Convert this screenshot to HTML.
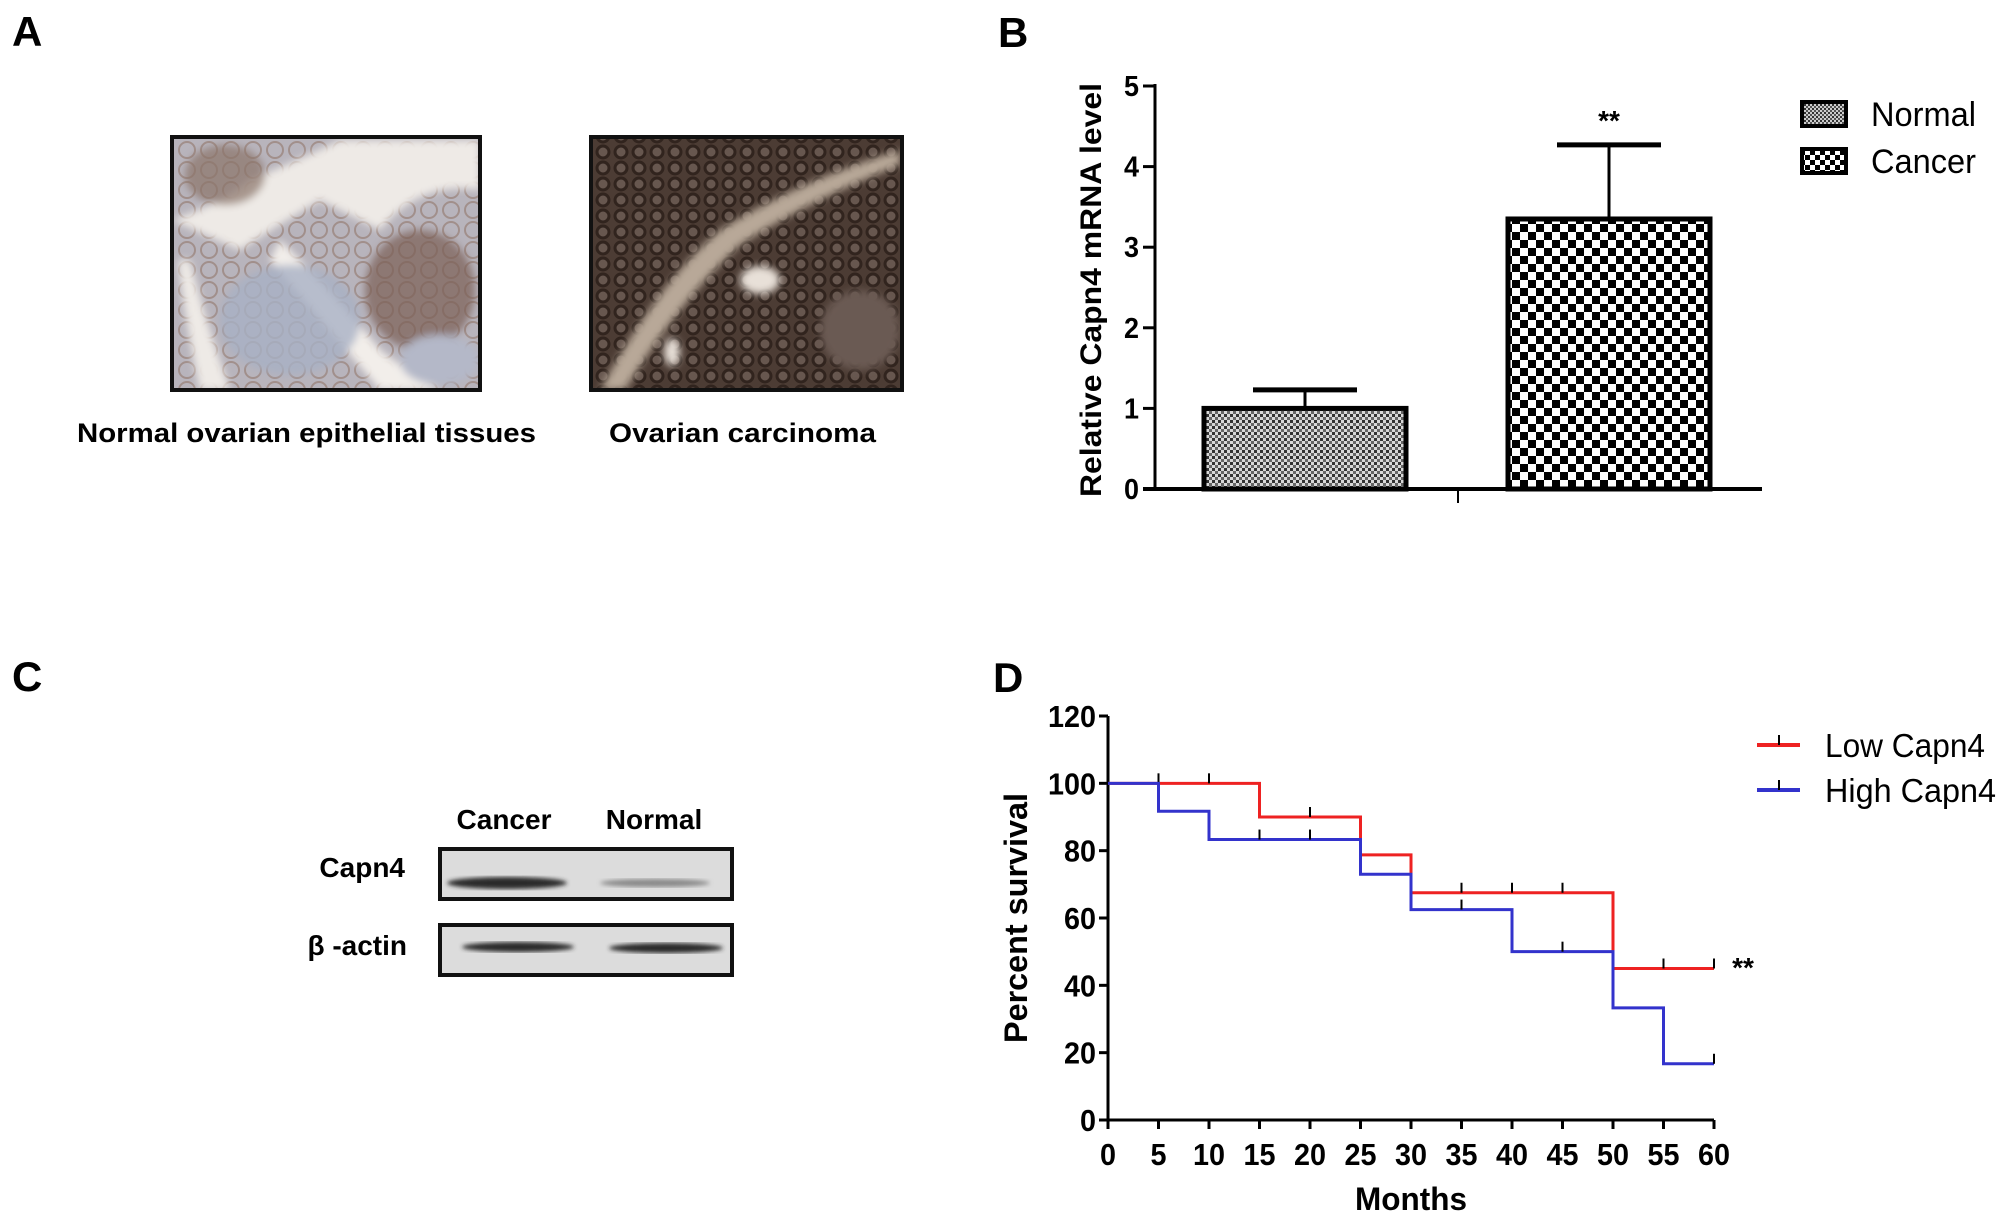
<!DOCTYPE html>
<html><head><meta charset="utf-8"><style>
html,body{margin:0;padding:0;background:#fff;}
svg{display:block;font-family:"Liberation Sans",Arial,sans-serif;}
</style></head><body>
<svg id="fig" width="2008" height="1222" viewBox="0 0 2008 1222" xmlns="http://www.w3.org/2000/svg">
<defs>
<pattern id="fine" width="6" height="6" patternUnits="userSpaceOnUse">
<rect width="6" height="6" fill="#d8d8d8"/><rect width="3" height="3" fill="#333"/><rect x="3" y="3" width="3" height="3" fill="#666"/>
</pattern>
<pattern id="coarse" width="16" height="16" patternUnits="userSpaceOnUse">
<rect width="16" height="16" fill="#fff"/><rect width="8" height="8" fill="#000"/><rect x="8" y="8" width="8" height="8" fill="#000"/>
</pattern>
<pattern id="coarseL" width="10" height="10" patternUnits="userSpaceOnUse">
<rect width="10" height="10" fill="#fff"/><rect width="5" height="5" fill="#000"/><rect x="5" y="5" width="5" height="5" fill="#000"/>
</pattern>
<pattern id="fineL" width="4" height="4" patternUnits="userSpaceOnUse">
<rect width="4" height="4" fill="#ccc"/><rect width="2" height="2" fill="#333"/><rect x="2" y="2" width="2" height="2" fill="#555"/>
</pattern>
<pattern id="cellsLight" width="22" height="20" patternUnits="userSpaceOnUse">
<circle cx="11" cy="10" r="8" fill="none" stroke="#8a6a5a" stroke-width="2" opacity="0.5"/>
</pattern>
<pattern id="cellsDark" width="18" height="16" patternUnits="userSpaceOnUse">
<circle cx="9" cy="8" r="6" fill="#6e5e56" stroke="#2a1e18" stroke-width="3"/>
</pattern>
<filter id="blur4"><feGaussianBlur stdDeviation="4"/></filter>
<filter id="blur2"><feGaussianBlur stdDeviation="2"/></filter>
<clipPath id="c1"><rect x="172" y="137" width="308" height="253"/></clipPath>
<clipPath id="c2"><rect x="591" y="137" width="311" height="253"/></clipPath>
</defs>

<!-- Panel A -->
<text x="12" y="46" font-size="42" font-weight="bold">A</text>
<g clip-path="url(#c1)">
<rect x="172" y="137" width="308" height="253" fill="#b8b4bc"/>
<rect x="172" y="137" width="308" height="253" fill="url(#cellsLight)"/>
<g filter="url(#blur4)">
<path d="M172,220 Q230,200 250,180 Q300,160 340,140 L480,140 L480,190 Q420,180 380,230 L320,200 Q270,230 240,250 Z" fill="#eeeae6"/>
<path d="M280,240 Q340,300 380,350 Q420,380 440,390 L380,390 Q330,330 270,260 Z" fill="#f2eeea"/>
<path d="M190,260 Q205,320 230,390 L200,390 Q185,320 178,260 Z" fill="#eeeae6"/>
<ellipse cx="290" cy="320" rx="70" ry="55" fill="#a8b0c4" opacity="0.8"/>
<ellipse cx="420" cy="290" rx="55" ry="60" fill="#7a5e54" opacity="0.7"/>
<ellipse cx="225" cy="175" rx="40" ry="30" fill="#8a7468" opacity="0.7"/>
<ellipse cx="440" cy="360" rx="40" ry="25" fill="#b4b8c8"/>
</g>
</g>
<rect x="172" y="137" width="308" height="253" fill="none" stroke="#111" stroke-width="4"/>
<g clip-path="url(#c2)">
<rect x="591" y="137" width="311" height="253" fill="#4c3c34"/>
<rect x="591" y="137" width="311" height="253" fill="url(#cellsDark)" opacity="0.8"/>
<g filter="url(#blur4)">
<path d="M600,390 Q660,280 720,230 Q800,180 900,150 L900,165 Q810,200 740,245 Q680,300 625,390 Z" fill="#b8a898"/>
<ellipse cx="860" cy="330" rx="40" ry="40" fill="#6a5a52"/>
<ellipse cx="760" cy="280" rx="20" ry="14" fill="#e8e0d8"/>
<ellipse cx="672" cy="352" rx="8" ry="14" fill="#e8e0d8"/>
</g>
</g>
<rect x="591" y="137" width="311" height="253" fill="none" stroke="#111" stroke-width="4"/>
<text x="77" y="442" font-size="27" font-weight="bold" textLength="459" lengthAdjust="spacingAndGlyphs">Normal ovarian epithelial tissues</text>
<text x="609" y="442" font-size="27" font-weight="bold" textLength="267" lengthAdjust="spacingAndGlyphs">Ovarian carcinoma</text>

<!-- Panel C -->
<text x="12" y="691" font-size="42" font-weight="bold">C</text>
<text x="504" y="829" font-size="28" font-weight="bold" text-anchor="middle">Cancer</text>
<text x="654" y="829" font-size="28" font-weight="bold" text-anchor="middle">Normal</text>
<text x="405" y="877" font-size="28" font-weight="bold" text-anchor="end">Capn4</text>
<text x="407" y="955" font-size="28" font-weight="bold" text-anchor="end">β -actin</text>
<g>
<rect x="440" y="849" width="292" height="50" fill="#dcdcdc"/>
<ellipse cx="507" cy="883" rx="60" ry="6" fill="#2a2a2a" filter="url(#blur2)"/>
<ellipse cx="655" cy="883" rx="55" ry="4" fill="#8a8a8a" filter="url(#blur2)"/>
<rect x="440" y="849" width="292" height="50" fill="none" stroke="#111" stroke-width="4"/>
</g>
<g>
<rect x="440" y="925" width="292" height="50" fill="#dcdcdc"/>
<ellipse cx="518" cy="947" rx="56" ry="5" fill="#2a2a2a" filter="url(#blur2)"/>
<ellipse cx="666" cy="948" rx="57" ry="5" fill="#2a2a2a" filter="url(#blur2)"/>
<rect x="440" y="925" width="292" height="50" fill="none" stroke="#111" stroke-width="4"/>
</g>

<!-- Panel B -->
<text x="998" y="47" font-size="42" font-weight="bold">B</text>
<g id="barChart"></g>

<!-- Panel D -->
<text x="993" y="692" font-size="42" font-weight="bold">D</text>
<g id="kmChart"></g>
</svg>
<script>
// ---- Bar chart data (panel B)
const barCategories = ["Normal", "Cancer"];
const barValues = [1.0, 3.35];
const barErrors = [0.23, 0.92];
const barTicks = [0, 1, 2, 3, 4, 5];
const barFills = ["url(#fine)", "url(#coarse)"];
const barLegendFills = ["url(#fineL)", "url(#coarseL)"];

// ---- Survival data (panel D)
const kmTimeTicks = [0, 5, 10, 15, 20, 25, 30, 35, 40, 45, 50, 55, 60];
const kmYTicks = [0, 20, 40, 60, 80, 100, 120];
const lowTimes = [0, 15, 25, 30, 50, 60];
const lowSurv = [100, 90, 78.75, 67.5, 45, 45];
const lowCensor = [5, 10, 20, 35, 40, 45, 55, 60];
const highTimes = [0, 5, 10, 25, 30, 40, 50, 55, 60];
const highSurv = [100, 91.7, 83.3, 73, 62.5, 50, 33.3, 16.7, 16.7];
const highCensor = [15, 20, 35, 45, 60];
const kmSeriesNames = ["Low Capn4", "High Capn4"];

const NS = "http://www.w3.org/2000/svg";
function mk(tag, attrs, parent, text) {
  const e = document.createElementNS(NS, tag);
  for (const k in attrs) e.setAttribute(k, attrs[k]);
  if (text !== undefined) e.textContent = text;
  parent.appendChild(e);
  return e;
}

// ---- Draw bar chart
(function () {
  const g = document.getElementById("barChart");
  const x0 = 1155, x1 = 1762, yBase = 489, yTop = 86, vMax = 5;
  const y = v => yBase - (v / vMax) * (yBase - yTop);
  const barW = 202;
  const centers = [1305, 1609];
  let e = mk("line", {x1: x0, y1: yTop - 2, x2: x0, y2: yBase, stroke: "#000", "stroke-width": 3}, g);
  
  
  e = mk("line", {x1: 1143, y1: yBase, x2: x1, y2: yBase, stroke: "#000", "stroke-width": 4}, g);
  
  
  mk("line", {x1: 1458, y1: yBase, x2: 1458, y2: 503, stroke: "#000", "stroke-width": 2}, g);
  barTicks.forEach(t => {
    mk("line", {x1: 1143, y1: y(t), x2: x0, y2: y(t), stroke: "#000", "stroke-width": 3}, g);
    const tl = mk("text", {x: 1139, y: y(t) + 10, "font-size": 29, "font-weight": "bold", "text-anchor": "end", textLength: 15, lengthAdjust: "spacingAndGlyphs"}, g, String(t));
    
    
  });
  const yt = mk("text", {x: 0, y: 0, "font-size": 30, "font-weight": "bold", "text-anchor": "middle", transform: "translate(1101,290) rotate(-90)", textLength: 414, lengthAdjust: "spacingAndGlyphs"}, g, "Relative Capn4 mRNA level");
  
  
  barValues.forEach((v, i) => {
    const cx = centers[i];
    const err = mk("line", {x1: cx, y1: y(v), x2: cx, y2: y(v + barErrors[i]), stroke: "#000", "stroke-width": 3}, g);
    
    
    mk("line", {x1: cx - 52, y1: y(v + barErrors[i]), x2: cx + 52, y2: y(v + barErrors[i]), stroke: "#000", "stroke-width": 5}, g);
    const b = mk("rect", {x: cx - barW / 2, y: y(v), width: barW, height: yBase - y(v), fill: barFills[i], stroke: "#000", "stroke-width": 5}, g);
    
    
  });
  const st = mk("text", {x: centers[1], y: 130, "font-size": 28, "font-weight": "bold", "text-anchor": "middle"}, g, "**");
  
  
  barCategories.forEach((c, i) => {
    const ly = 100 + i * 47;
    const lb = mk("rect", {x: 1802, y: ly + 2, width: 44, height: 24, fill: barLegendFills[i], stroke: "#000", "stroke-width": 4}, g);
    
    
    const lt = mk("text", {x: 1871, y: ly + 26, "font-size": 34, textLength: 105, lengthAdjust: "spacingAndGlyphs"}, g, c);
    
    
  });
})();

// ---- Draw survival chart
(function () {
  const g = document.getElementById("kmChart");
  const x0 = 1108, xEnd = 1714, yBase = 1120, yTop = 716;
  const X = t => x0 + (t / 60) * (xEnd - x0);
  const Y = v => yBase - (v / 120) * (yBase - yTop);
  let e = mk("line", {x1: x0, y1: yTop, x2: x0, y2: yBase, stroke: "#000", "stroke-width": 3}, g);
  
  
  e = mk("line", {x1: x0 - 8, y1: yBase, x2: xEnd, y2: yBase, stroke: "#000", "stroke-width": 3}, g);
  
  
  kmYTicks.forEach(t => {
    mk("line", {x1: x0 - 9, y1: Y(t), x2: x0, y2: Y(t), stroke: "#000", "stroke-width": 3}, g);
    const s = String(t);
    const tl = mk("text", {x: 1096, y: Y(t) + 11, "font-size": 31, "font-weight": "bold", "text-anchor": "end", textLength: s.length * 16, lengthAdjust: "spacingAndGlyphs"}, g, s);
    
    
  });
  kmTimeTicks.forEach(t => {
    mk("line", {x1: X(t), y1: yBase, x2: X(t), y2: yBase + 9, stroke: "#000", "stroke-width": 3}, g);
    const s = String(t);
    const tl = mk("text", {x: X(t), y: 1165, "font-size": 31, "font-weight": "bold", "text-anchor": "middle", textLength: s.length * 16, lengthAdjust: "spacingAndGlyphs"}, g, s);
    
    
  });
  const xt = mk("text", {x: 1411, y: 1210, "font-size": 32, "font-weight": "bold", "text-anchor": "middle", textLength: 112, lengthAdjust: "spacingAndGlyphs"}, g, "Months");
  
  
  const yt = mk("text", {x: 0, y: 0, "font-size": 32, "font-weight": "bold", "text-anchor": "middle", transform: "translate(1027,918) rotate(-90)", textLength: 250, lengthAdjust: "spacingAndGlyphs"}, g, "Percent survival");
  
  

  function stepValue(times, surv, t) {
    let v = surv[0];
    for (let i = 0; i < times.length; i++) if (times[i] <= t + 1e-9) v = surv[i]; else break;
    return v;
  }
  function drawSeries(times, surv, censor, color, name) {
    let d = "M" + X(times[0]) + "," + Y(surv[0]);
    for (let i = 1; i < times.length; i++) {
      d += " H" + X(times[i]) + " V" + Y(surv[i]);
    }
    const p = mk("path", {d: d, fill: "none", stroke: color, "stroke-width": 3}, g);
    
    
    censor.forEach(t => {
      const v = stepValue(times, surv, t);
      const c = mk("line", {x1: X(t), y1: Y(v), x2: X(t), y2: Y(v) - 10, stroke: "#000", "stroke-width": 2}, g);
      
      
    });
  }
  drawSeries(lowTimes, lowSurv, lowCensor, "#ee2222", "low-capn4");
  drawSeries(highTimes, highSurv, highCensor, "#3333cc", "high-capn4");
  const st = mk("text", {x: 1743, y: 977, "font-size": 28, "font-weight": "bold", "text-anchor": "middle"}, g, "**");
  
  
  const colors = ["#ee2222", "#3333cc"];
  kmSeriesNames.forEach((n, i) => {
    const ly = 745 + i * 45;
    const sw = mk("line", {x1: 1757, y1: ly, x2: 1800, y2: ly, stroke: colors[i], "stroke-width": 4}, g);
    
    
    mk("line", {x1: 1779, y1: ly, x2: 1779, y2: ly - 10, stroke: "#000", "stroke-width": 2}, g);
    const lt = mk("text", {x: 1825, y: ly + 12, "font-size": 33, textLength: i ? 171 : 160, lengthAdjust: "spacingAndGlyphs"}, g, n);
    
    
  });
})();
</script>
</body></html>
